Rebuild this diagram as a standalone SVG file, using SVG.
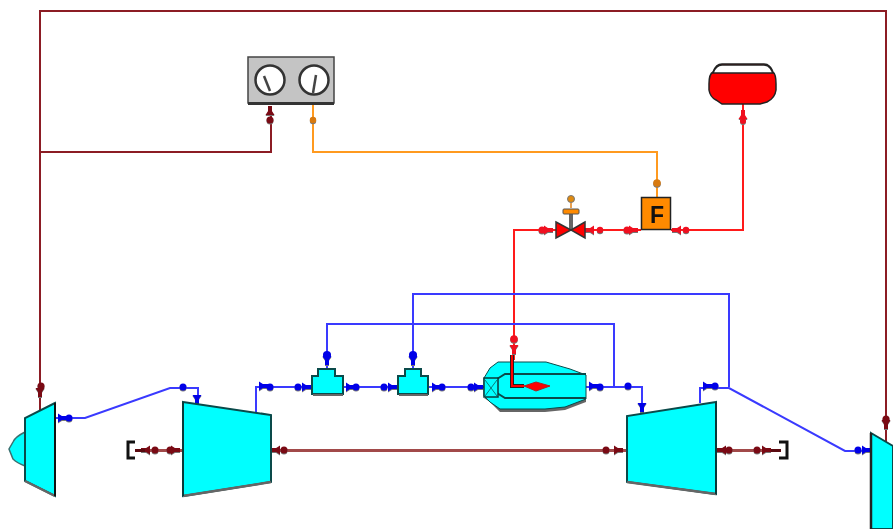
<svg xmlns="http://www.w3.org/2000/svg" width="893" height="529" viewBox="0 0 893 529">
<style>
.w{fill:none;stroke-width:2}
.b{stroke:#3a3aff}.r{stroke:#ff1a1a}.d{stroke:#8c1c24}.o{stroke:#ff9a1f}.s{stroke:#a24a4a;stroke-width:3;fill:none}
.c{fill:#00ffff;stroke:#0a4a4a;stroke-width:2}
.sh{fill:#666}
.p{filter:drop-shadow(0 1px 0 #777)}
.bp{fill:#0000e8}.rp{fill:#f01020}.dp{fill:#7a0a14}.op{fill:#d87a10}
text{font-family:"Liberation Sans",Arial,sans-serif}
</style>
<defs>
<g id="ah"><path d="M-5 -4.500L2 0L-5 4.500Z"/><rect x="-2" y="-2" width="6" height="4"/></g>
</defs>
<g id="connectors">
<path class="w d" d="M40 410V11H886V442"/>
<path class="w d" d="M40 152H271V106"/>
<path class="w o" d="M313 105V152H657V197"/>
<path class="w r" d="M743 104V230H671"/>
<path class="w r" d="M641 230H585"/>
<path class="w r" d="M557 230H514V360"/>
<path class="w b" d="M55 418H85L170 388H198V403"/>
<path class="w b" d="M256 416V387H312"/>
<path class="w b" d="M343 387H398"/>
<path class="w b" d="M428 387H484"/>
<path class="w b" d="M586 387H642V412"/>
<path class="w b" d="M614 387V324H327V368"/>
<path class="w b" d="M729 387V294H413V368"/>
<path class="w b" d="M700 403V388H729L845 451H871"/>
<path class="s" d="M271 450.500H627"/>
<path class="s" d="M135 450.500H183"/>
<path class="s" d="M716 450.500H780"/>
<g class="bp p">
<use href="#ah" x="63" y="418"/><circle cx="69" cy="418" r="3.500"/>
<circle cx="183" cy="387" r="3.500"/><use href="#ah" x="197" y="400" transform="rotate(90 197 400)"/>
<use href="#ah" x="264" y="386"/><circle cx="270" cy="387" r="3.500"/>
<circle cx="298" cy="387" r="3.500"/><use href="#ah" x="307" y="387"/>
<use href="#ah" x="351" y="387"/><circle cx="356" cy="387" r="3.500"/>
<circle cx="384" cy="387" r="3.500"/><use href="#ah" x="393" y="387"/>
<use href="#ah" x="437" y="387"/><circle cx="442" cy="387" r="3.500"/>
<circle cx="471" cy="387" r="3.500"/><use href="#ah" x="479" y="387"/>
<use href="#ah" x="594" y="386"/><circle cx="600" cy="387" r="3.500"/>
<circle cx="628" cy="386" r="3.500"/><use href="#ah" x="642" y="408" transform="rotate(90 642 408)"/>
<use href="#ah" x="708" y="386"/><circle cx="715" cy="386" r="3.500"/>
<circle cx="858" cy="450" r="3.500"/><use href="#ah" x="867" y="450"/>
<circle cx="327" cy="355" r="4"/><use href="#ah" x="327" y="361" transform="rotate(90 327 361)"/>
<circle cx="413" cy="355" r="4"/><use href="#ah" x="413" y="361" transform="rotate(90 413 361)"/>
</g>
<g class="rp p">
<use href="#ah" x="743" y="114" transform="rotate(-90 743 114)"/><circle cx="743" cy="121" r="3"/>
<use href="#ah" x="676" y="230" transform="rotate(180 676 230)"/><circle cx="686" cy="230" r="3.200"/>
<circle cx="627" cy="230" r="3.500"/><use href="#ah" x="634" y="230"/>
<use href="#ah" x="589" y="230" transform="rotate(180 589 230)"/><circle cx="600" cy="230" r="3.200"/>
<circle cx="542" cy="230" r="3.500"/><use href="#ah" x="549" y="230"/>
<circle cx="514" cy="339" r="3.800"/><use href="#ah" x="514" y="350" transform="rotate(90 514 350)"/>
</g>
<g class="dp p">
<use href="#ah" x="270" y="110" transform="rotate(-90 270 110)"/><circle cx="270" cy="120" r="3.500"/>
<circle cx="41" cy="386" r="3.500"/><use href="#ah" x="40" y="393" transform="rotate(90 40 393)"/>
<use href="#ah" x="275" y="450" transform="rotate(180 275 450)"/><circle cx="284" cy="450" r="3.500"/>
<circle cx="606" cy="450" r="3.500"/><use href="#ah" x="619" y="450"/>
<use href="#ah" x="721" y="450" transform="rotate(180 721 450)"/><circle cx="729" cy="450" r="3.500"/>
<circle cx="757" cy="450" r="3.500"/><use href="#ah" x="767" y="450"/>
<use href="#ah" x="145" y="450" transform="rotate(180 145 450)"/><circle cx="155" cy="450" r="3.500"/>
<circle cx="170" cy="450" r="3.500"/><use href="#ah" x="176" y="450"/>
<circle cx="886" cy="419" r="3.500"/><use href="#ah" x="886" y="425" transform="rotate(90 886 425)"/>
</g>
<g class="op p"><circle cx="313" cy="120" r="3.200"/><circle cx="657" cy="183" r="3.800"/></g>
</g>
<g id="gauges">
<rect x="248" y="57" width="86" height="46" fill="#c4c4c4" stroke="#444" stroke-width="1.500"/>
<rect x="248" y="102" width="86" height="3" fill="#333"/>
<circle cx="270" cy="80" r="14.500" fill="#fff" stroke="#333" stroke-width="2.500"/>
<circle cx="314" cy="80" r="14.500" fill="#fff" stroke="#333" stroke-width="2.500"/>
<path d="M264 76L270 91" stroke="#444" stroke-width="2.500"/>
<path d="M316 75L313 93" stroke="#444" stroke-width="2.500"/>
</g>
<g id="tank">
<path d="M709 84Q709 74 713 72Q716 64 722 64H764Q770 64 773 72Q776 74 776 84V90Q775 98 767 102L760 104H722L716 100Q710 97 709 90Z" fill="#ff0000" stroke="#222" stroke-width="1.500"/>
<path d="M713 73Q716 65 722 65H764Q770 65 773 73Z" fill="#fff" stroke="#222" stroke-width="1.500"/>
</g>
<g id="filter">
<rect x="641.500" y="197.500" width="29" height="32" fill="#ff8a00" stroke="#222" stroke-width="1.500"/>
<text x="657" y="223" font-size="23" font-weight="700" text-anchor="middle" fill="#111">F</text>
</g>
<g id="valve">
<path d="M571 230V212" stroke="#666" stroke-width="4"/>
<rect x="563" y="209" width="16" height="5" rx="1" fill="#ff8a00" stroke="#555"/>
<path d="M571 208V203" stroke="#e8a050" stroke-width="2"/>
<circle cx="571" cy="199" r="3.500" fill="#e08a10" stroke="#777"/>
<path d="M556 222L571 230L556 238Z" fill="#ff0000" stroke="#333" stroke-width="1.500"/>
<path d="M585 222L571 230L585 238Z" fill="#ff0000" stroke="#333" stroke-width="1.500"/>
</g>
<g id="combustor">
<path d="M490 402L500 412H545L565 410L586 402V398H484Z" class="sh"/>
<path d="M498 362H546L570 369L586 375V399L565 407L545 409H500L490 402L484 396V378L490 368Z" fill="#00ffff" stroke="#0a4a4a" stroke-width="1"/>
<path d="M586 374H514M586 398H505L497 393M497 379L505 374H514" fill="none" stroke="#0a4a4a" stroke-width="2"/>
<rect x="484" y="378" width="14" height="19" fill="#00ffff" stroke="#0a3a3a" stroke-width="1.500"/>
<path d="M485 380L497 396M497 380L485 396" stroke="#0a7a7a"/>
<path d="M512 355V386H524" fill="none" stroke="#222" stroke-width="4"/>
<path d="M512 355V386H524" fill="none" stroke="#f00" stroke-width="2"/>
<path d="M524 386L536 382L550 386L536 391Z" fill="#f00" stroke="#a22" stroke-width="1"/>
</g>
<g id="tee1">
<path d="M318 369H335V376H343V394H312V376H318Z" class="c"/>
<rect x="313" y="394" width="30" height="2" class="sh"/>
</g>
<g id="tee2">
<path d="M405 369H421V376H428V394H398V376H405Z" class="c"/>
<rect x="399" y="394" width="29" height="2" class="sh"/>
</g>
<g id="inlet">
<path d="M25 432Q15 437 13 442L9 449L13 459Q17 463 25 466Z" fill="#00ffff" stroke="#3a7070" stroke-width="1.500"/>
<path d="M55 403L25 418V481L55 496Z" class="c"/>
<path d="M25 481L55 496" stroke="#666" stroke-width="2.500"/>
<path d="M55 403V496" stroke="#111" stroke-width="2"/>
</g>
<g id="compressor">
<path d="M183 402L271 415V482L183 496Z" class="c"/>
<path d="M183 496L271 482" stroke="#666" stroke-width="2.500"/>
<path d="M183 402V496" stroke="#0a3a3a" stroke-width="2"/>
</g>
<g id="turbine">
<path d="M716 402L627 416V482L716 494Z" class="c"/>
<path d="M627 482L716 494" stroke="#666" stroke-width="2.500"/>
<path d="M716 402V494" stroke="#0a3a3a" stroke-width="2"/>
</g>
<g id="nozzle">
<path d="M871 433L893 446V529H871Z" class="c"/>
<path d="M871 433V529" stroke="#222" stroke-width="2.500"/>
</g>
<g id="load-left">
<path d="M135 442H128V458H135" fill="none" stroke="#111" stroke-width="3"/>
<path d="M135 450.500H145" stroke="#5a0a10" stroke-width="3"/>
</g>
<g id="load-right">
<path d="M779 442H787V458H779" fill="none" stroke="#111" stroke-width="3"/>
<path d="M771 450.500H781" stroke="#5a0a10" stroke-width="3"/>
</g>
</svg>
